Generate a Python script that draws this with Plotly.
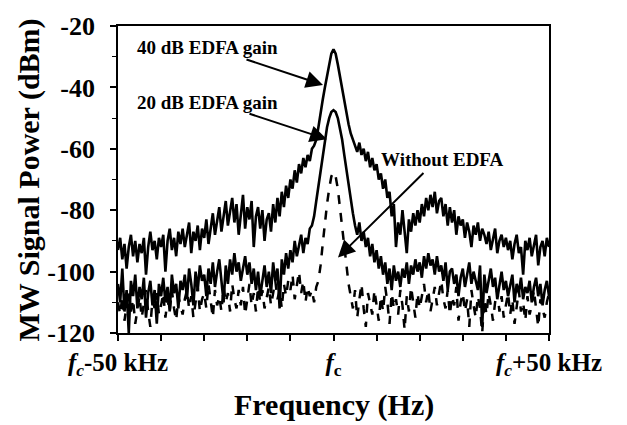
import plotly.graph_objects as go

# Frequency offset from carrier, kHz (sampled every 0.5 kHz from -50 to +50)
freq_start_khz = -50.0
freq_step_khz = 0.5
n_points = 201
freq_khz = [freq_start_khz + i * freq_step_khz for i in range(n_points)]

# 40 dB EDFA gain trace (dBm)
p_40db = [
    -93, -89, -96, -91, -99, -92, -88, -95, -90, -97,
    -91, -94, -89, -101, -92, -87, -93, -90, -96, -89,
    -92, -88, -100, -90, -86, -93, -89, -95, -87, -91,
    -86, -92, -88, -84, -94, -87, -90, -85, -93, -86,
    -89, -83, -91, -85, -81, -88, -84, -79, -87, -82,
    -77, -85, -80, -76, -84, -78, -88, -81, -75, -86,
    -79, -83, -77, -92, -82, -79, -86, -80, -90, -83,
    -81, -87, -78, -84, -76, -82, -74, -79, -72, -76,
    -70, -73, -67, -71, -65, -68, -63, -66, -62, -64,
    -60, -59, -57, -53, -48, -44, -40, -36.5, -32.5, -29,
    -27.6,
    -29, -32.5, -36.5, -40, -44, -48, -52, -55, -57,
    -59, -61, -58, -62, -60, -64, -61, -66, -63, -67,
    -65, -70, -68, -73, -70, -76, -74, -82, -78, -92,
    -84, -88, -80, -86, -94, -83, -87, -81, -85, -80,
    -84, -78, -82, -76, -80, -75, -79, -74, -81, -77,
    -76, -82, -78, -85, -79, -84, -80, -88, -82, -85,
    -83, -89, -84, -87, -92, -85, -88, -84, -90, -86,
    -88, -91, -87, -93, -89, -86, -94, -90, -88, -92,
    -89, -93, -90, -96, -91, -88, -94, -92, -101, -90,
    -93, -89, -95, -91, -88, -98, -92, -90, -95, -89, -92,
]

# 20 dB EDFA gain trace (dBm)
p_20db = [
    -104, -110, -99, -113, -106, -120, -103, -108, -101, -112,
    -105, -109, -102, -115, -107, -103, -111, -106, -117, -104,
    -108, -102, -110, -105, -113, -101, -107, -104, -112, -103,
    -106, -101, -109, -99, -104, -111, -100, -106, -98, -103,
    -101, -108, -99, -104, -97, -105, -100, -96, -103, -110,
    -98, -104, -96, -101, -94, -100, -97, -103, -99, -95,
    -101, -97, -104, -99, -106, -100, -108, -102, -98, -105,
    -100, -107, -97, -103, -99, -112, -96, -101, -94, -99,
    -93, -97, -90, -95, -92, -88, -94, -89, -91, -86,
    -85, -82, -77, -72, -67, -62, -57, -53, -50, -48,
    -47.4,
    -48, -50, -53, -57, -62, -67, -72, -77, -81,
    -85, -88, -84, -90, -87, -92, -89, -95, -91, -97,
    -93, -99, -95, -101, -97, -104, -99, -106, -98, -103,
    -100, -105, -99, -102, -97, -104, -98, -101, -96, -100,
    -97, -102, -95, -99, -94, -98, -96, -101, -95, -100,
    -98, -103, -97, -106, -100, -99, -104, -101, -108, -102,
    -99, -105, -101, -97, -104, -100, -103, -106, -98, -118,
    -101, -107, -103, -99, -105, -102, -109, -104, -100, -106,
    -103, -108, -105, -101, -110, -104, -107, -102, -109, -105,
    -107, -103, -110, -105, -102, -108, -104, -111, -106, -103, -108,
]

# Without EDFA trace (dBm)
p_no_edfa = [
    -110, -114, -108, -116, -111, -106, -113, -109, -117, -112,
    -108, -115, -110, -106, -113, -118, -109, -112, -107, -114,
    -111, -107, -115, -109, -113, -106, -112, -116, -108, -111,
    -114, -109, -106, -112, -108, -115, -110, -105, -113, -109,
    -107, -112, -104, -110, -115, -106, -111, -108, -113, -105,
    -110, -107, -113, -104, -109, -112, -106, -111, -105, -114,
    -108, -104, -111, -107, -113, -105, -110, -106, -112, -108,
    -105, -111, -107, -103, -109, -106, -112, -104, -108, -103,
    -106, -101, -109, -104, -100, -107, -103, -110, -105, -108,
    -106, -110, -105, -103, -98, -91, -84, -78, -73, -69,
    -67.6,
    -69, -73, -79, -86, -93, -99, -104, -108, -112,
    -106, -115, -109, -104, -112, -118, -107, -110, -114, -106,
    -111, -116, -108, -113, -105, -110, -117, -107, -112, -109,
    -114, -106, -111, -119, -108, -113, -105, -110, -115, -107,
    -112, -108, -104, -110, -106, -113, -109, -105, -111, -107,
    -103, -109, -112, -106, -114, -108, -111, -105, -116, -110,
    -107, -113, -109, -118, -106, -111, -115, -108, -112, -120,
    -109, -114, -107, -111, -116, -110, -106, -113, -108, -115,
    -111, -107, -114, -109, -117, -112, -106, -113, -110, -116,
    -108, -114, -111, -106, -113, -118, -109, -112, -115, -110, -107,
]

x_tick_vals = [-50, -40, -30, -20, -10, 0, 10, 20, 30, 40, 50]
x_tick_text = ["<i>f<sub>c</sub></i>-50 kHz", "", "", "", "", "<i>f</i><sub>c</sub>",
               "", "", "", "", "<i>f<sub>c</sub></i>+50 kHz"]
y_tick_vals = [-120, -100, -80, -60, -40, -20]
y_tick_text = ["-120", "-100", "-80", "-60", "-40", "-20"]

FONT = "Liberation Serif, Times New Roman, serif"

fig = go.Figure()
fig.add_trace(go.Scatter(x=freq_khz, y=p_no_edfa, mode="lines",
                         line=dict(color="black", width=2.5, dash="dash"),
                         name="Without EDFA"))
fig.add_trace(go.Scatter(x=freq_khz, y=p_20db, mode="lines",
                         line=dict(color="black", width=2.6),
                         name="20 dB EDFA gain"))
fig.add_trace(go.Scatter(x=freq_khz, y=p_40db, mode="lines",
                         line=dict(color="black", width=2.6),
                         name="40 dB EDFA gain"))

fig.update_layout(
    width=627, height=425,
    margin=dict(l=118, r=78, t=16, b=92),
    paper_bgcolor="white", plot_bgcolor="white",
    showlegend=False,
    font=dict(family=FONT, color="black"),
)
fig.update_xaxes(
    range=[-50, 50], tickmode="array", tickvals=x_tick_vals, ticktext=x_tick_text,
    ticks="outside", ticklen=6, tickwidth=1.5, tickcolor="black",
    showline=True, linecolor="black", linewidth=1.8, mirror=True,
    showgrid=False, zeroline=False,
    tickfont=dict(family=FONT, size=25, color="black", weight="bold"),
    ticklabelstandoff=0,
)
fig.update_yaxes(
    range=[-120, -20], tickmode="array", tickvals=y_tick_vals, ticktext=y_tick_text,
    ticks="outside", ticklen=6, tickwidth=1.5, tickcolor="black",
    minor=dict(tickvals=[-110, -90, -70, -50, -30], ticks="outside", ticklen=4,
               tickwidth=1.2, tickcolor="black"),
    showline=True, linecolor="black", linewidth=1.8, mirror=True,
    showgrid=False, zeroline=False,
    tickfont=dict(family=FONT, size=26, color="black", weight="bold"),
    ticklabelstandoff=10,
)

bold19 = dict(family=FONT, size=19, color="black", weight="bold")
annots = [
    # axis titles
    dict(text="MW Signal Power (dBm)", xref="paper", yref="paper", x=-0.2065, y=0.5,
         xanchor="center", yanchor="middle", textangle=-90, showarrow=False,
         font=dict(family=FONT, size=30, color="black", weight="bold")),
    dict(text="Frequency (Hz)", xref="paper", yref="paper", x=0.5, y=-0.2334,
         xanchor="center", yanchor="middle", showarrow=False,
         font=dict(family=FONT, size=30, color="black", weight="bold")),
    # labels
    dict(text="40 dB EDFA gain", x=-29.35, y=-26.9, xref="x", yref="y",
         showarrow=False, xanchor="center", yanchor="middle", font=bold19),
    dict(text="20 dB EDFA gain", x=-29.35, y=-44.9, xref="x", yref="y",
         showarrow=False, xanchor="center", yanchor="middle", font=bold19),
    dict(text="Without EDFA", x=25.2, y=-63.5, xref="x", yref="y",
         showarrow=False, xanchor="center", yanchor="middle", font=bold19),
    # arrows
    dict(text="", x=-2.44, y=-39.2, xref="x", yref="y", ax=-78, ay=-26,
         showarrow=True, arrowhead=2, arrowsize=1.7, arrowwidth=2, arrowcolor="black", standoff=0),
    dict(text="", x=-1.51, y=-56.9, xref="x", yref="y", ax=-79, ay=-26,
         showarrow=True, arrowhead=2, arrowsize=1.7, arrowwidth=2, arrowcolor="black", standoff=0),
    dict(text="", x=1.04, y=-95.4, xref="x", yref="y", ax=87, ay=-86,
         showarrow=True, arrowhead=2, arrowsize=1.7, arrowwidth=2, arrowcolor="black", standoff=0),
]
fig.update_layout(annotations=annots)

fig.write_html("out.html")
